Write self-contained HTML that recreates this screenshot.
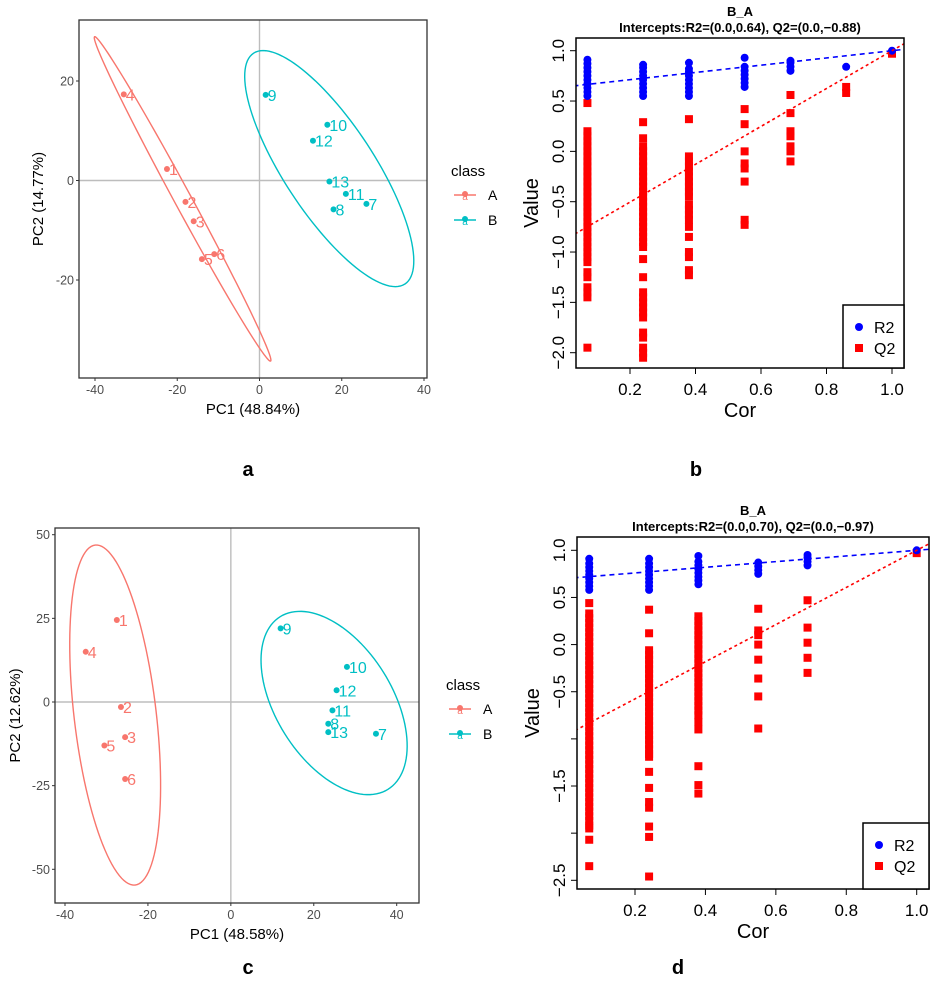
<!DOCTYPE html>
<html><head><meta charset="utf-8"><style>
body{margin:0;background:#fff}
svg{display:block}
text{font-family:"Liberation Sans",sans-serif}
</style></head><body>
<svg id="fig" width="935" height="993" viewBox="0 0 935 993" xmlns="http://www.w3.org/2000/svg"></svg>
<script>
// ---------- Panel a data ----------
const aLabels=["1","2","3","4","5","6","7","8","9","10","11","12","13"];
const aClass=["A","A","A","A","A","A","B","B","B","B","B","B","B"];
const aPC1=[-22.5,-18,-16,-33,-14,-11,26,18,1.5,16.5,21,13,17];
const aPC2=[2.3,-4.3,-8.2,17.3,-15.8,-14.8,-4.7,-5.8,17.2,11.2,-2.7,8,-0.2];
const aXTicks=[-40,-20,0,20,40];
const aYTicks=[-20,0,20];
// ellipse: center, major half-vector, minor half-vector (data units)
const aEllA=[-18.7,-3.7,21.4,-32.6,1.82,0.81];
const aEllB=[16.96,2.39,18.4,-23.2,9.17,4.96];
// ---------- Panel c data ----------
const cLabels=["1","2","3","4","5","6","7","8","9","10","11","12","13"];
const cClass=["A","A","A","A","A","A","B","B","B","B","B","B","B"];
const cPC1=[-27.5,-26.5,-25.5,-35,-30.5,-25.5,35,23.5,12,28,24.5,25.5,23.5];
const cPC2=[24.5,-1.5,-10.5,15,-13,-23,-9.5,-6.5,22,10.5,-2.5,3.5,-9];
const cXTicks=[-40,-20,0,20,40];
const cYTicks=[-50,-25,0,25,50];
const cEllA=[-27.9,-3.9,4.82,-50.8,9.84,1.43];
const cEllB=[24.9,-0.3,13.0,-25.8,11.9,9.2];
// ---------- Panel b data ----------
const bCor=[0.07,0.24,0.38,0.55,0.69,0.86,1.0];
const bR2=[
 [0.55,0.59,0.63,0.67,0.71,0.75,0.79,0.83,0.87,0.91],
 [0.55,0.59,0.63,0.67,0.71,0.75,0.79,0.83,0.86],
 [0.55,0.59,0.63,0.67,0.71,0.75,0.79,0.82,0.88],
 [0.64,0.68,0.72,0.76,0.80,0.84,0.93],
 [0.80,0.84,0.88,0.90],
 [0.84],
 [1.0]];
const bQ2=[
 [0.48,0.20,0.15,0.10,0.05,0.0,-0.05,-0.10,-0.15,-0.20,-0.25,-0.30,-0.35,-0.40,-0.45,-0.50,-0.55,-0.60,-0.65,-0.70,-0.75,-0.80,-0.85,-0.90,-0.95,-1.0,-1.05,-1.10,-1.20,-1.25,-1.35,-1.40,-1.45,-1.95],
 [0.29,0.13,0.05,0.0,-0.05,-0.10,-0.15,-0.20,-0.25,-0.30,-0.35,-0.40,-0.45,-0.50,-0.55,-0.60,-0.65,-0.70,-0.75,-0.80,-0.85,-0.90,-0.95,-1.07,-1.25,-1.40,-1.45,-1.50,-1.55,-1.60,-1.65,-1.80,-1.85,-1.95,-2.0,-2.05],
 [0.32,-0.05,-0.10,-0.15,-0.20,-0.25,-0.30,-0.35,-0.40,-0.45,-0.53,-0.58,-0.63,-0.68,-0.75,-0.85,-1.0,-1.05,-1.18,-1.23],
 [0.42,0.27,0.0,-0.12,-0.17,-0.30,-0.68,-0.73],
 [0.56,0.38,0.20,0.15,0.05,0.0,-0.10],
 [0.64,0.58],
 [0.97]];
const bIntercepts=[0.64,-0.88];
const bYTicks=[-2.0,-1.5,-1.0,-0.5,0.0,0.5,1.0];
const bYTickLabels=["\u22122.0","\u22121.5","\u22121.0","\u22120.5","0.0","0.5","1.0"];
const bXTicks=[0.2,0.4,0.6,0.8,1.0];
// ---------- Panel d data ----------
const dCor=[0.07,0.24,0.38,0.55,0.69,1.0];
const dR2=[
 [0.58,0.62,0.66,0.70,0.74,0.78,0.82,0.86,0.91],
 [0.58,0.62,0.66,0.70,0.74,0.78,0.82,0.86,0.91],
 [0.64,0.68,0.72,0.76,0.80,0.84,0.88,0.94],
 [0.75,0.79,0.83,0.87],
 [0.84,0.88,0.92,0.95],
 [1.0]];
const dQ2=[
 [0.44,0.33,0.28,0.23,0.18,0.13,0.08,0.03,-0.02,-0.07,-0.12,-0.17,-0.22,-0.27,-0.32,-0.37,-0.42,-0.47,-0.52,-0.57,-0.62,-0.67,-0.72,-0.77,-0.82,-0.87,-0.92,-0.97,-1.02,-1.07,-1.12,-1.17,-1.22,-1.27,-1.32,-1.37,-1.42,-1.47,-1.52,-1.57,-1.62,-1.67,-1.72,-1.77,-1.82,-1.87,-1.92,-1.95,-2.07,-2.35],
 [0.37,0.12,-0.06,-0.11,-0.16,-0.21,-0.26,-0.31,-0.36,-0.41,-0.46,-0.51,-0.56,-0.61,-0.66,-0.71,-0.76,-0.81,-0.86,-0.91,-0.96,-1.01,-1.06,-1.11,-1.16,-1.19,-1.35,-1.52,-1.67,-1.73,-1.93,-2.04,-2.46],
 [0.30,0.25,0.20,0.15,0.10,0.05,0.0,-0.05,-0.10,-0.15,-0.20,-0.25,-0.30,-0.35,-0.40,-0.45,-0.50,-0.55,-0.60,-0.65,-0.70,-0.75,-0.82,-0.90,-1.29,-1.49,-1.58],
 [0.38,0.15,0.10,0.0,-0.16,-0.36,-0.55,-0.89],
 [0.47,0.18,0.02,-0.14,-0.30],
 [0.97]];
const dIntercepts=[0.70,-0.97];
const dYTicks=[-2.5,-2.0,-1.5,-1.0,-0.5,0.0,0.5,1.0];
const dYTickLabels=["\u22122.5","","\u22121.5","","\u22120.5","0.0","0.5","1.0"];
const dXTicks=[0.2,0.4,0.6,0.8,1.0];

const NS="http://www.w3.org/2000/svg";
const svg=document.getElementById('fig');
function mk(tag,attrs,parent,txt){const e=document.createElementNS(NS,tag);for(const k in attrs)e.setAttribute(k,attrs[k]);if(txt!==undefined)e.textContent=txt;(parent||svg).appendChild(e);return e;}
const COL={A:"#F8766D",B:"#00BFC4"};

function pcaPanel(cfg){
  const g=mk('g',{});
  
  
  const sx=v=>cfg.x0+(v-cfg.xmin)*(cfg.x1-cfg.x0)/(cfg.xmax-cfg.xmin);
  const sy=v=>cfg.y0+(cfg.ymax-v)*(cfg.y1-cfg.y0)/(cfg.ymax-cfg.ymin);
  // zero lines
  const zx=mk('line',{x1:sx(0),x2:sx(0),y1:cfg.py0,y2:cfg.py1,stroke:"#bdbdbd","stroke-width":1.4},g);
  
  const zy=mk('line',{x1:cfg.px0,x2:cfg.px1,y1:sy(0),y2:sy(0),stroke:"#bdbdbd","stroke-width":1.4},g);
  
  // ellipses
  [[cfg.ellA,"A"],[cfg.ellB,"B"]].forEach(([e,c])=>{
    let d="";
    for(let i=0;i<=120;i++){const t=i/120*2*Math.PI;
      const X=e[0]+e[2]*Math.cos(t)+e[4]*Math.sin(t);
      const Y=e[1]+e[3]*Math.cos(t)+e[5]*Math.sin(t);
      d+=(i?"L":"M")+sx(X).toFixed(2)+","+sy(Y).toFixed(2);}
    const p=mk('path',{d:d+"Z",fill:"none",stroke:COL[c],"stroke-width":1.4},g);
    
    
  });
  // points
  cfg.pc1.forEach((v,i)=>{
    const c=COL[cfg.cls[i]];
    const pt=mk('circle',{cx:sx(v),cy:sy(cfg.pc2[i]),r:3,fill:c},g);
    
    
    const tl=mk('text',{x:sx(v)+2,y:sy(cfg.pc2[i])+6,fill:c,"font-size":16},g,cfg.labels[i]);
    
    
  });
  // box
  const bx=mk('rect',{x:cfg.px0,y:cfg.py0,width:cfg.px1-cfg.px0,height:cfg.py1-cfg.py0,fill:"none",stroke:"#333","stroke-width":1.3},g);
  
  cfg.xticks.forEach(t=>{
    mk('line',{x1:sx(t),x2:sx(t),y1:cfg.py1,y2:cfg.py1+3,stroke:"#333"},g);
    const tx=mk('text',{x:sx(t),y:cfg.py1+16,"text-anchor":"middle","font-size":12.5,fill:"#4d4d4d"},g,String(t));
    
  });
  cfg.yticks.forEach(t=>{
    mk('line',{x1:cfg.px0-3,x2:cfg.px0,y1:sy(t),y2:sy(t),stroke:"#333"},g);
    const ty=mk('text',{x:cfg.px0-5,y:sy(t)+4.5,"text-anchor":"end","font-size":12.5,fill:"#4d4d4d"},g,String(t));
    
  });
  const xt=mk('text',{x:(cfg.px0+cfg.px1)/2,y:cfg.py1+36,"text-anchor":"middle","font-size":15},g,cfg.xtitle);
  
  const yt=mk('text',{x:0,y:0,"text-anchor":"middle","font-size":15,transform:`translate(${cfg.ytx},${(cfg.py0+cfg.py1)/2}) rotate(-90)`},g,cfg.ytitle);
  
  // legend
  const lg=mk('g',{},g);
  
  mk('text',{x:cfg.lx,y:cfg.ly,"font-size":15},lg,"class");
  ["A","B"].forEach((c,i)=>{
    const yy=cfg.ly+24+i*25;
    const en=mk('g',{},lg);
    
    
    mk('line',{x1:cfg.lx+3,x2:cfg.lx+25,y1:yy-5,y2:yy-5,stroke:COL[c],"stroke-width":1.4},en);
    mk('circle',{cx:cfg.lx+14,cy:yy-6,r:3,fill:COL[c]},en);
    mk('text',{x:cfg.lx+14,y:yy,"text-anchor":"middle","font-size":10,fill:COL[c]},en,"a");
    mk('text',{x:cfg.lx+37,y:yy,"font-size":14},en,c);
  });
}

function permPanel(cfg){
  const g=mk('g',{});
  
  
  const sx=v=>cfg.x0+(v-cfg.xa)*(cfg.x1-cfg.x0)/(cfg.xb-cfg.xa);
  const sy=v=>cfg.y0+(cfg.ya-v)*(cfg.y1-cfg.y0)/(cfg.ya-cfg.yb);
  const cid='clip'+cfg.name;
  const cp=mk('clipPath',{id:cid},g);
  mk('rect',{x:cfg.px0,y:cfg.py0,width:cfg.px1-cfg.px0,height:cfg.py1-cfg.py0},cp);
  const pg=mk('g',{"clip-path":`url(#${cid})`},g);
  cfg.cor.forEach((c,i)=>{
    cfg.q2[i].forEach(v=>{
      const s=mk('rect',{x:sx(c)-4,y:sy(v)-4,width:8,height:8,fill:"#ff0000"},pg);
      
    });
    cfg.r2[i].forEach(v=>{
      const p=mk('circle',{cx:sx(c),cy:sy(v),r:4,fill:"#0000ff"},pg);
      
    });
  });
  const lb=mk('line',{x1:sx(0),y1:sy(cfg.ic[0]),x2:sx(1.2),y2:sy(cfg.ic[0]+(1-cfg.ic[0])*1.2),stroke:"#0000ff","stroke-width":1.6,"stroke-dasharray":"5,4"},pg);
  
  const lr=mk('line',{x1:sx(0),y1:sy(cfg.ic[1]),x2:sx(1.2),y2:sy(cfg.ic[1]+(1-cfg.ic[1])*1.2),stroke:"#ff0000","stroke-width":1.6,"stroke-dasharray":"3,3"},pg);
  
  const bx=mk('rect',{x:cfg.px0,y:cfg.py0,width:cfg.px1-cfg.px0,height:cfg.py1-cfg.py0,fill:"none",stroke:"#000","stroke-width":1.5},g);
  
  cfg.xticks.forEach(t=>{
    mk('line',{x1:sx(t),x2:sx(t),y1:cfg.py1,y2:cfg.py1+6,stroke:"#000"},g);
    const tx=mk('text',{x:sx(t),y:cfg.py1+27,"text-anchor":"middle","font-size":17},g,t.toFixed(1));
    
  });
  cfg.yticks.forEach((t,i)=>{
    mk('line',{x1:cfg.px0-6,x2:cfg.px0,y1:sy(t),y2:sy(t),stroke:"#000"},g);
    if(cfg.ylabels[i]){
      const ty=mk('text',{x:0,y:0,"text-anchor":"middle","font-size":17,transform:`translate(${cfg.px0-12},${sy(t)}) rotate(-90)`},g,cfg.ylabels[i]);
      
    }
  });
  const xt=mk('text',{x:(cfg.px0+cfg.px1)/2,y:cfg.py1+49,"text-anchor":"middle","font-size":20},g,"Cor");
  
  const yt=mk('text',{x:0,y:0,"text-anchor":"middle","font-size":20,transform:`translate(${cfg.px0-38},${(cfg.py0+cfg.py1)/2}) rotate(-90)`},g,"Value");
  
  const t1=mk('text',{x:cfg.tx,y:cfg.py0-22,"text-anchor":"middle","font-size":13,"font-weight":"bold"},g,"B_A");
  
  const t2=mk('text',{x:cfg.tx,y:cfg.py0-6,"text-anchor":"middle","font-size":13,"font-weight":"bold"},g,cfg.subtitle);
  
  const lg=mk('g',{},g);
  
  mk('rect',{x:cfg.lx,y:cfg.ly,width:cfg.px1-cfg.lx,height:cfg.py1-cfg.ly,fill:"#fff",stroke:"#000","stroke-width":1.5},lg);
  const e1=mk('g',{},lg);
  
  mk('circle',{cx:cfg.lx+16,cy:cfg.ly+22,r:4,fill:"#0000ff"},e1);
  mk('text',{x:cfg.lx+31,y:cfg.ly+28,"font-size":16},e1,"R2");
  const e2=mk('g',{},lg);
  
  mk('rect',{x:cfg.lx+12,y:cfg.ly+39,width:8,height:8,fill:"#ff0000"},e2);
  mk('text',{x:cfg.lx+31,y:cfg.ly+49,"font-size":16},e2,"Q2");
}

pcaPanel({name:"pca-plot-a",labels:aLabels,cls:aClass,pc1:aPC1,pc2:aPC2,xticks:aXTicks,yticks:aYTicks,ellA:aEllA,ellB:aEllB,
  xmin:-40,xmax:40,x0:95,x1:424,ymin:-20,ymax:20,y0:81,y1:280,px0:79,px1:427,py0:20,py1:378,
  xtitle:"PC1 (48.84%)",ytitle:"PC2 (14.77%)",ytx:43,lx:451,ly:176});
pcaPanel({name:"pca-plot-c",labels:cLabels,cls:cClass,pc1:cPC1,pc2:cPC2,xticks:cXTicks,yticks:cYTicks,ellA:cEllA,ellB:cEllB,
  xmin:-40,xmax:40,x0:65,x1:396.7,ymin:-50,ymax:50,y0:534.7,y1:869.3,px0:55,px1:419,py0:528,py1:903,
  xtitle:"PC1 (48.58%)",ytitle:"PC2 (12.62%)",ytx:20,lx:446,ly:690});
permPanel({name:"permutation-plot-b",cor:bCor,r2:bR2,q2:bQ2,ic:bIntercepts,yticks:bYTicks,ylabels:bYTickLabels,xticks:bXTicks,
  xa:0.2,xb:1.0,x0:630,x1:892,ya:1.0,yb:-2.0,y0:50.7,y1:352.7,px0:576,px1:904,py0:38,py1:368,
  tx:740,subtitle:"Intercepts:R2=(0.0,0.64), Q2=(0.0,\u22120.88)",lx:843,ly:305});
permPanel({name:"permutation-plot-d",cor:dCor,r2:dR2,q2:dQ2,ic:dIntercepts,yticks:dYTicks,ylabels:dYTickLabels,xticks:dXTicks,
  xa:0.2,xb:1.0,x0:635,x1:916.7,ya:1.0,yb:-2.5,y0:550.3,y1:880.3,px0:577,px1:929,py0:537,py1:889,
  tx:753,subtitle:"Intercepts:R2=(0.0,0.70), Q2=(0.0,\u22120.97)",lx:863,ly:823});

[["a",248,476],["b",696,476],["c",248,974],["d",678,974]].forEach(([l,x,y])=>{
  const t=mk('text',{x:x,y:y,"text-anchor":"middle","font-size":20,"font-weight":"bold","font-family":"Liberation Serif, serif"},svg,l);
  
  
});
</script>
</body></html>
